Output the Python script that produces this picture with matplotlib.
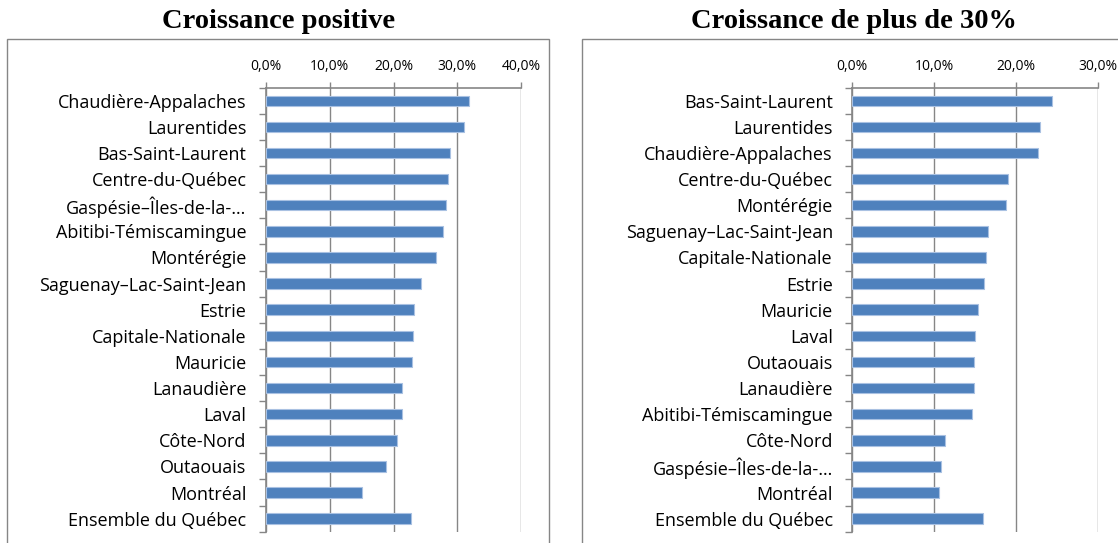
import numpy as np
import matplotlib
matplotlib.use("Agg")
import matplotlib.pyplot as plt
from matplotlib.patches import Rectangle
from matplotlib.ticker import FuncFormatter, FixedLocator

# left panel: croissance positive
regions_pos = ["Chaudière-Appalaches", "Laurentides", "Bas-Saint-Laurent",
               "Centre-du-Québec", "Gaspésie–Îles-de-la-…", "Abitibi-Témiscamingue",
               "Montérégie", "Saguenay–Lac-Saint-Jean", "Estrie", "Capitale-Nationale",
               "Mauricie", "Lanaudière", "Laval", "Côte-Nord", "Outaouais",
               "Montréal", "Ensemble du Québec"]
values_pos = [31.8, 31.0, 28.9, 28.6, 28.3, 27.8, 26.6, 24.3, 23.2, 23.1,
              22.9, 21.3, 21.3, 20.5, 18.8, 15.1, 22.7]

# right panel: croissance de plus de 30%
regions_30 = ["Bas-Saint-Laurent", "Laurentides", "Chaudière-Appalaches",
              "Centre-du-Québec", "Montérégie", "Saguenay–Lac-Saint-Jean",
              "Capitale-Nationale", "Estrie", "Mauricie", "Laval", "Outaouais",
              "Lanaudière", "Abitibi-Témiscamingue", "Côte-Nord",
              "Gaspésie–Îles-de-la-…", "Montréal", "Ensemble du Québec"]
values_30 = [24.3, 22.9, 22.7, 19.0, 18.7, 16.5, 16.3, 16.1, 15.3, 15.0, 14.8,
             14.8, 14.6, 11.3, 10.8, 10.6, 15.9]

ticks_pos = [0, 10, 20, 30, 40]
ticks_30 = [0, 10, 20, 30]

W, H = 1118, 543
fig = plt.figure(figsize=(W / 100, H / 100), dpi=100)

bar_color = "#4f81bd"
grid_color = "#868686"
label_font = "Open Sans"


def pct(v, p):
    return f"{v:.1f}%".replace(".", ",")


def draw_panel(left, right, labels, values, ticks, title, box_x, box_w, title_x):
    top, bottom = 87.7, 531.7
    ax = fig.add_axes([left / W, 1 - bottom / H, (right - left) / W, (bottom - top) / H])
    n = len(labels)
    y = np.arange(n)
    ax.barh(y, values, height=0.4, color=bar_color, edgecolor="#a9c1e2",
            linewidth=0.8, zorder=3)
    ax.set_xlim(ticks[0], ticks[-1])
    ax.set_ylim(n - 0.5, -0.5)
    ax.set_xticks(ticks)
    ax.xaxis.set_major_formatter(FuncFormatter(pct))
    ax.xaxis.tick_top()
    ax.tick_params(axis="x", direction="out", length=4, width=1, color=grid_color,
                   labelsize=10, pad=6)
    for lab in ax.get_xticklabels():
        lab.set_fontfamily(label_font)
    ax.grid(axis="x", color=grid_color, linewidth=1, zorder=0)
    ax.set_yticks(y)
    ax.set_yticklabels(labels, fontfamily=label_font, fontsize=13)
    ax.yaxis.set_minor_locator(FixedLocator(np.arange(n + 1) - 0.5))
    ax.tick_params(axis="y", which="major", length=0, pad=14)
    ax.tick_params(axis="y", which="minor", direction="out", length=5, width=1,
                   color=grid_color)
    for s in ["right", "bottom"]:
        ax.spines[s].set_visible(False)
    ax.spines["left"].set_color(grid_color)
    ax.spines["top"].set_color(grid_color)
    ax.spines["left"].set_linewidth(1.2)
    ax.spines["top"].set_linewidth(1.2)

    # panel frame
    fig.patches.append(Rectangle((box_x / W, -0.05), box_w / W, 1.05 - 39 / H,
                                 transform=fig.transFigure, fill=False,
                                 edgecolor=grid_color, linewidth=1))
    fig.text(title_x / W, 1 - 21 / H, title, ha="center", va="center",
             fontfamily="Liberation Serif", fontweight="bold", fontsize=20.5)
    return ax


draw_panel(266, 521, regions_pos, values_pos, ticks_pos, "Croissance positive",
           7, 542, 279)
draw_panel(852.3, 1098.3, regions_30, values_30, ticks_30, "Croissance de plus de 30%",
           582, 560, 854)

fig.savefig("out.png", dpi=100)
